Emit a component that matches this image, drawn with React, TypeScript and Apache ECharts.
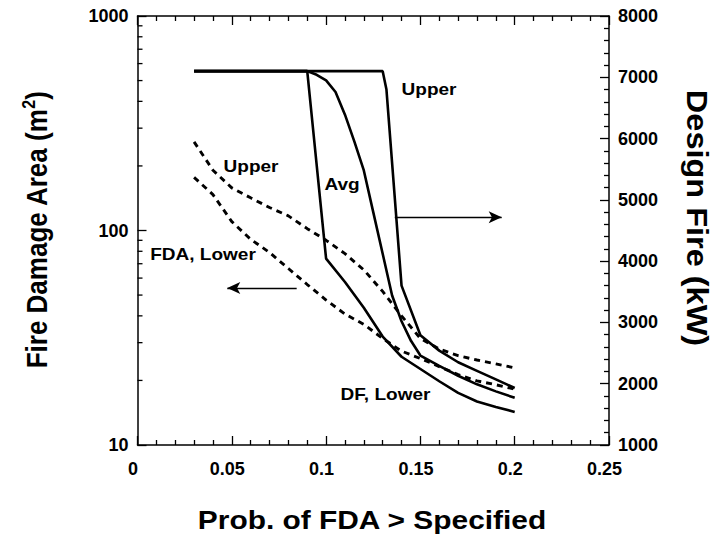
import React, { useEffect, useRef } from "react";
import * as echarts from "echarts";

// Fire damage area (m², left log axis) against exceedance probability
const fdaProb = [0.03, 0.04, 0.05, 0.06, 0.07, 0.08, 0.09, 0.1, 0.11, 0.12, 0.13, 0.14, 0.15, 0.16, 0.17, 0.18, 0.19, 0.2];
const fdaUpper = [259, 191, 158, 142, 128, 117, 102, 90, 78, 65.5, 52, 40, 31.4, 28, 26.1, 24.9, 23.9, 22.9];
const fdaLower = [177, 147, 110, 91, 79, 66.5, 56, 47.4, 40.8, 36.5, 31.4, 27.4, 25.3, 23.2, 21.3, 19.9, 19.1, 18.2];

// Design fire (kW, right axis)
const dfUpperProb = [0.03, 0.13, 0.132, 0.14, 0.15, 0.16, 0.17, 0.18, 0.19, 0.2];
const dfUpper = [7100, 7100, 6800, 3600, 2790, 2540, 2350, 2210, 2070, 1930];

const dfAvgProb = [0.03, 0.09, 0.095, 0.1, 0.105, 0.11, 0.115, 0.12, 0.125, 0.13, 0.135, 0.14, 0.145, 0.15, 0.16, 0.17, 0.18, 0.19, 0.2];
const dfAvg = [7100, 7100, 7040, 6950, 6760, 6390, 5950, 5480, 4800, 4120, 3440, 3020, 2700, 2460, 2290, 2130, 1990, 1875, 1770];

const dfLowerProb = [0.03, 0.09, 0.1, 0.11, 0.12, 0.13, 0.14, 0.15, 0.16, 0.17, 0.18, 0.19, 0.2];
const dfLower = [7100, 7100, 4040, 3660, 3240, 2770, 2440, 2240, 2040, 1850, 1710, 1620, 1540];

// Minor ticks of the logarithmic area axis
const areaMinorTicks = [20, 30, 40, 50, 60, 70, 80, 90, 200, 300, 400, 500, 600, 700, 800, 900];

// Arrows pointing each family of curves to its axis
const dfArrow = { from: 0.1364, to: 0.1931, level: 4715 };
const fdaArrow = { from: 0.0844, to: 0.0476, level: 54 };

const FONT = '"Liberation Sans", Arial, Helvetica, sans-serif';

const pairs = (xs: number[], ys: number[]) => xs.map((x, i) => [x, ys[i]]);

const fmt = (v: number) => String(parseFloat(v.toFixed(4)));

const solid = { color: "#000", width: 2.6, type: "solid" as const };
const dashed = { color: "#000", width: 2.9, type: [6, 5] as any };

const arrowLine = (from: number, to: number, level: number) => ({
  silent: true,
  symbol: ["none", "arrow"],
  symbolSize: [9, 13],
  label: { show: false },
  lineStyle: { color: "#000", width: 1.3, type: "solid" },
  data: [[{ coord: [from, level] }, { coord: [to, level] }]],
});

const frameLine = { show: true, onZero: false, lineStyle: { color: "#000", width: 1.5 } };
const majorTick = { show: true, inside: true, length: 9, lineStyle: { color: "#000", width: 1.3 } };
const minorTick = { show: true, splitNumber: 5, length: 5, lineStyle: { color: "#000", width: 1.3 } };
const tickLabel = { color: "#000", fontWeight: "bold" as const, fontSize: 18, fontFamily: FONT };

const note = (x: number, y: number, text: string) => ({
  type: "text",
  x,
  y,
  scaleX: 1.12,
  silent: true,
  style: {
    text,
    fill: "#000",
    font: `bold 17px ${FONT}`,
    textAlign: "center",
    textVerticalAlign: "middle",
    align: "center",
    verticalAlign: "middle",
  },
});

export default function App() {
  const ref = useRef<HTMLDivElement>(null);

  useEffect(() => {
    if (!ref.current) return;
    const chart = echarts.init(ref.current, undefined, { renderer: "svg" });

    chart.setOption({
      animation: false,
      backgroundColor: "#fff",
      grid: { left: 137.5, top: 16, width: 471.5, height: 429, containLabel: false },
      xAxis: [
        {
          type: "value",
          min: 0,
          max: 0.25,
          interval: 0.05,
          position: "bottom",
          axisLine: frameLine,
          axisTick: majorTick,
          minorTick,
          splitLine: { show: false },
          axisLabel: { ...tickLabel, margin: 15, padding: [0, 9, 0, 0], formatter: fmt },
        },
        {
          type: "value",
          min: 0,
          max: 0.25,
          interval: 0.05,
          position: "top",
          axisLine: frameLine,
          axisTick: majorTick,
          minorTick,
          splitLine: { show: false },
          axisLabel: { show: false },
        },
      ],
      yAxis: [
        {
          type: "log",
          logBase: 10,
          min: 10,
          max: 1000,
          position: "left",
          axisLine: frameLine,
          axisTick: majorTick,
          splitLine: { show: false },
          axisLabel: { ...tickLabel, margin: 9, formatter: fmt },
        },
        {
          type: "value",
          min: 1000,
          max: 8000,
          interval: 1000,
          position: "right",
          axisLine: frameLine,
          axisTick: majorTick,
          minorTick,
          splitLine: { show: false },
          axisLabel: { ...tickLabel, margin: 9, formatter: fmt },
        },
      ],
      series: [
        {
          name: "FDA, Upper",
          type: "line",
          xAxisIndex: 0,
          yAxisIndex: 0,
          symbol: "none",
          lineStyle: dashed,
          data: pairs(fdaProb, fdaUpper),
        },
        {
          name: "FDA, Lower",
          type: "line",
          xAxisIndex: 0,
          yAxisIndex: 0,
          symbol: "none",
          lineStyle: dashed,
          data: pairs(fdaProb, fdaLower),
          markLine: arrowLine(fdaArrow.from, fdaArrow.to, fdaArrow.level),
        },
        {
          name: "DF, Upper",
          type: "line",
          xAxisIndex: 0,
          yAxisIndex: 1,
          symbol: "none",
          lineStyle: solid,
          data: pairs(dfUpperProb, dfUpper),
          markLine: arrowLine(dfArrow.from, dfArrow.to, dfArrow.level),
        },
        {
          name: "DF, Avg",
          type: "line",
          xAxisIndex: 0,
          yAxisIndex: 1,
          symbol: "none",
          lineStyle: solid,
          data: pairs(dfAvgProb, dfAvg),
        },
        {
          name: "DF, Lower",
          type: "line",
          xAxisIndex: 0,
          yAxisIndex: 1,
          symbol: "none",
          lineStyle: solid,
          data: pairs(dfLowerProb, dfLower),
        },
        {
          name: "area minor ticks",
          type: "custom",
          xAxisIndex: 0,
          yAxisIndex: 0,
          silent: true,
          clip: false,
          data: areaMinorTicks.map((v) => [0, v]),
          renderItem: (_params: any, api: any) => {
            const p = api.coord([0, api.value(1)]);
            return {
              type: "line",
              shape: { x1: p[0], y1: p[1], x2: p[0] + 5, y2: p[1] },
              style: { stroke: "#000", lineWidth: 1.3 },
            };
          },
        },
      ],
      graphic: [
        note(429, 89.5, "Upper"),
        note(251, 166, "Upper"),
        note(342, 184, "Avg"),
        note(203, 254, "FDA, Lower"),
        note(385.5, 394, "DF, Lower"),
        {
          type: "text",
          x: 372,
          y: 520,
          scaleX: 1.15,
          silent: true,
          style: {
            text: "Prob. of FDA > Specified",
            fill: "#000",
            font: `bold 26px ${FONT}`,
            textAlign: "center",
            textVerticalAlign: "middle",
            align: "center",
            verticalAlign: "middle",
          },
        },
        {
          type: "text",
          x: 37,
          y: 230,
          rotation: Math.PI / 2,
          scaleY: 1.12,
          silent: true,
          style: {
            text: "{n|Fire Damage Area (m}{s|2}{n|)}",
            fill: "#000",
            textAlign: "center",
            textVerticalAlign: "middle",
            align: "center",
            verticalAlign: "middle",
            rich: {
              n: { fontSize: 26, fontWeight: "bold", fontFamily: FONT, fill: "#000", lineHeight: 30 },
              s: { fontSize: 16, fontWeight: "bold", fontFamily: FONT, fill: "#000", lineHeight: 30, verticalAlign: "top" },
            },
          },
        },
        {
          type: "text",
          x: 697,
          y: 218,
          rotation: -Math.PI / 2,
          scaleX: 1.25,
          scaleY: 1.12,
          silent: true,
          style: {
            text: "Design Fire (kW)",
            fill: "#000",
            font: `bold 26px ${FONT}`,
            textAlign: "center",
            textVerticalAlign: "middle",
            align: "center",
            verticalAlign: "middle",
          },
        },
      ],
    });

    return () => chart.dispose();
  }, []);

  return (
    <div
      ref={ref}
      style={{ position: "absolute", left: 0, top: 0, width: 717, height: 540, background: "#fff" }}
    />
  );
}
